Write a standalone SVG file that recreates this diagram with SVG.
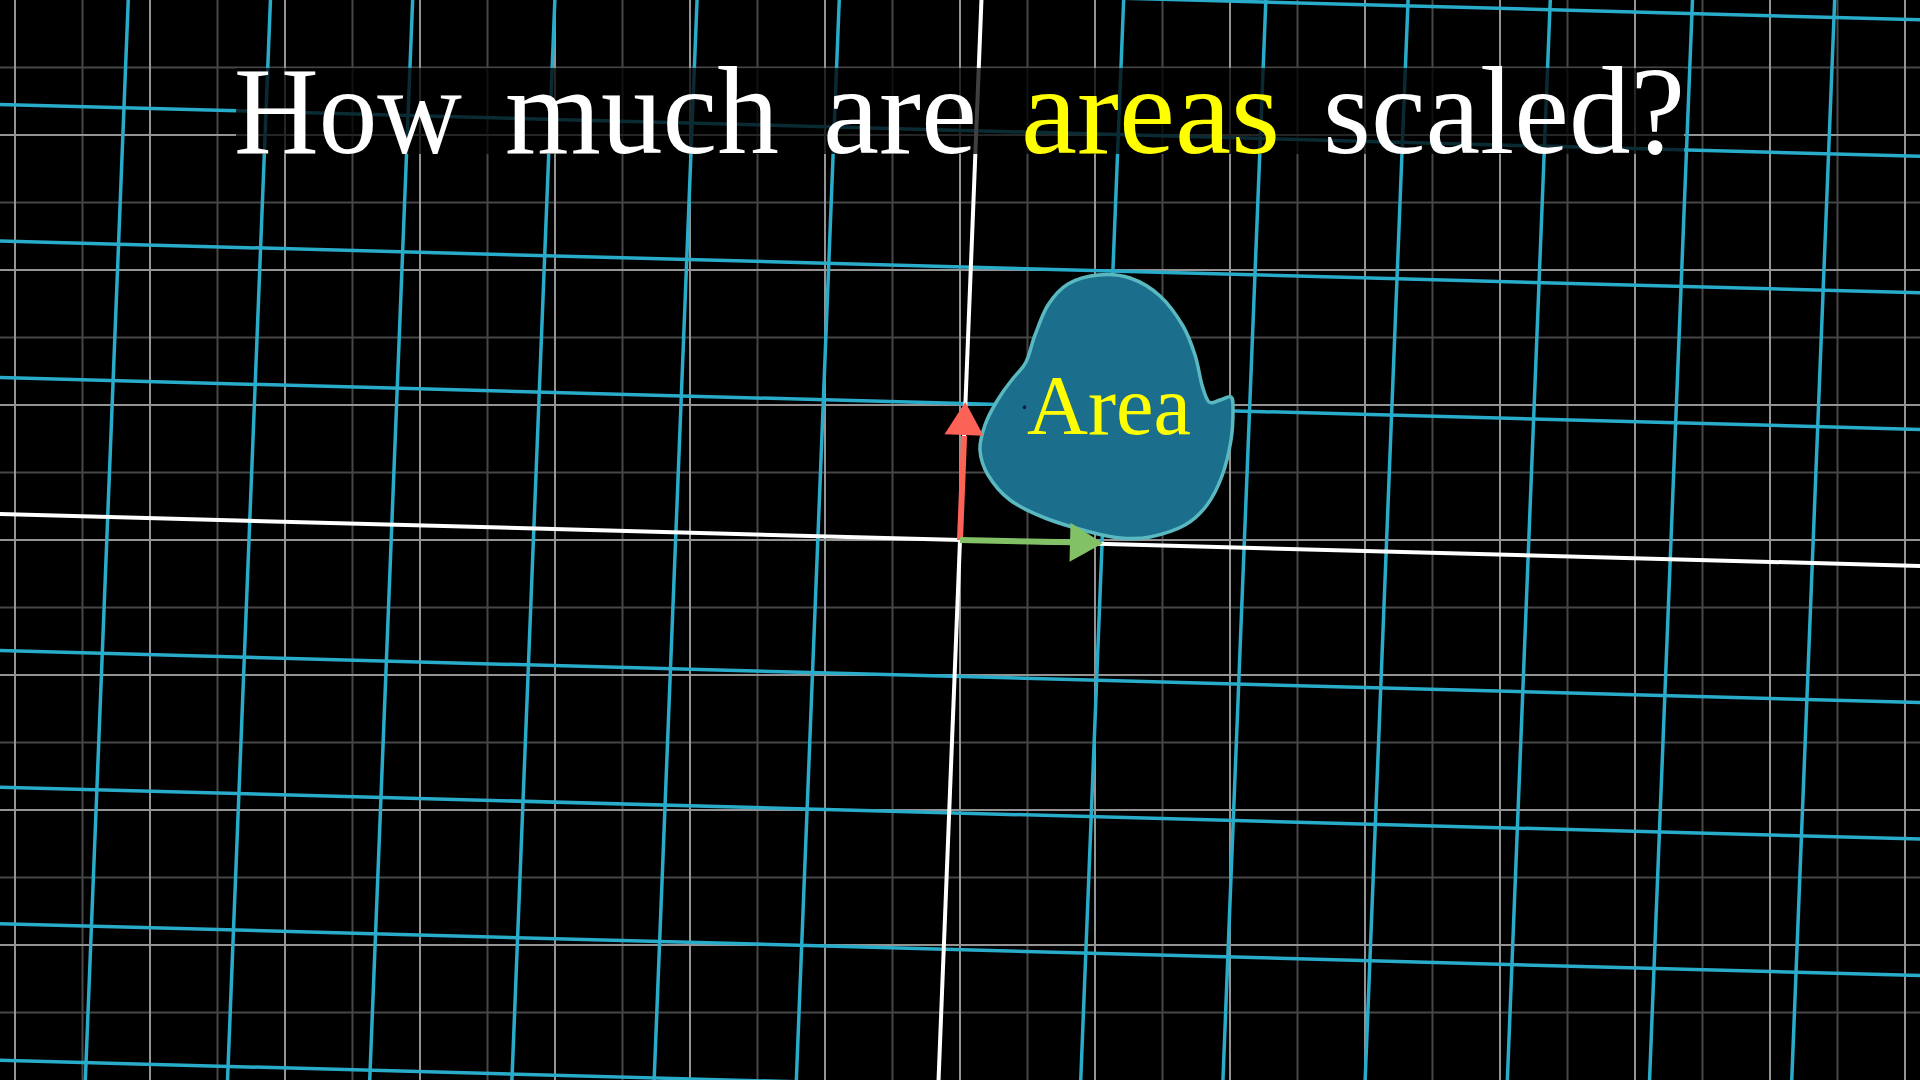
<svg xmlns="http://www.w3.org/2000/svg" width="1920" height="1080" viewBox="0 0 1920 1080">
<style>
.bg{fill:#000}
.gmaj{stroke:#949494;stroke-width:2;fill:none}
.gmin{stroke:#464646;stroke-width:2;fill:none}
.blue{stroke:#29ABCA;stroke-width:3.5;fill:none}
.axis{stroke:#ffffff;stroke-width:4;fill:none}
.title{font-family:"Liberation Serif","Times New Roman",serif;font-size:124px;fill:#ffffff}
.yel{fill:#FFFF00}
.blob{fill:#1b6e8c;stroke:#5ab9c0;stroke-width:3.5}
.label{font-family:"Liberation Serif","Times New Roman",serif;font-size:84px;fill:#FFFF00}
</style>
<rect class="bg" x="0" y="0" width="1920" height="1080"/>
<g id="background-grid">
<path class="gmin" d="M82.5 0V1080M217.5 0V1080M352.5 0V1080M487.5 0V1080M622.5 0V1080M757.5 0V1080M892.5 0V1080M1027.5 0V1080M1162.5 0V1080M1297.5 0V1080M1432.5 0V1080M1567.5 0V1080M1702.5 0V1080M1837.5 0V1080M0 67.5H1920M0 202.5H1920M0 337.5H1920M0 472.5H1920M0 607.5H1920M0 742.5H1920M0 877.5H1920M0 1012.5H1920"/>
<path class="gmaj" d="M15 0V1080M150 0V1080M285 0V1080M420 0V1080M555 0V1080M690 0V1080M825 0V1080M960 0V1080M1095 0V1080M1230 0V1080M1365 0V1080M1500 0V1080M1635 0V1080M1770 0V1080M1905 0V1080M0 135H1920M0 270H1920M0 405H1920M0 540H1920M0 675H1920M0 810H1920M0 945H1920"/>
</g>
<g id="transformed-grid">
<path class="blue" d="M-9.96 -100.68L-58.74 1126.92M132.09 -96.84L83.31 1130.76M274.14 -93L225.36 1134.6M416.19 -89.16L367.41 1138.44M558.24 -85.32L509.46 1142.28M700.29 -81.48L651.51 1146.12M842.34 -77.64L793.56 1149.96M1126.44 -69.96L1077.66 1157.64M1268.49 -66.12L1219.71 1161.48M1410.54 -62.28L1361.76 1165.32M1552.59 -58.44L1503.81 1169.16M1694.64 -54.6L1645.86 1173M1836.69 -50.76L1787.91 1176.84M1978.74 -46.92L1929.96 1180.68"/>
<path class="blue" d="M-127.08 1056.8L2003.72 1114.4M-121.66 920.4L2009.14 978M-116.24 784L2014.56 841.6M-110.82 647.6L2019.98 705.2M-99.98 374.8L2030.82 432.4M-94.56 238.4L2036.24 296M-89.14 102L2041.66 159.6M-83.72 -34.4L2047.08 23.2"/>
</g>
<g id="axes">
<path class="axis" d="M984.39 -73.8L935.61 1153.8"/>
<path class="axis" d="M-105.4 511.2L2025.4 568.8"/>
</g>
<g id="title">
<rect x="236" y="68" width="1448" height="86" fill="#000" fill-opacity="0.75"/>
<text class="title" x="234" y="153" textLength="228" lengthAdjust="spacingAndGlyphs">How</text>
<text class="title" x="505" y="153" textLength="274" lengthAdjust="spacingAndGlyphs">much</text>
<text class="title" x="823" y="153" textLength="154" lengthAdjust="spacingAndGlyphs">are</text>
<text class="title yel" x="1021" y="153" textLength="259" lengthAdjust="spacingAndGlyphs">areas</text>
<text class="title" x="1323" y="153" textLength="362" lengthAdjust="spacingAndGlyphs">scaled?</text>
</g>
<g id="area-blob">
<path class="blob" d="M1098 275C1108.3 274 1119.7 274.5 1130 278C1140.3 281.5 1151.2 288 1160 296C1168.8 304 1177.2 316.2 1183 326C1188.8 335.8 1191.8 345.2 1195 355C1198.2 364.8 1199.7 377.2 1202 385C1204.3 392.8 1206 399.5 1209 402C1212 404.5 1216.3 400.8 1220 400C1223.7 399.2 1228.8 395.3 1231 397C1233.2 398.7 1233 402.8 1233 410C1233 417.2 1232.8 429 1231 440C1229.2 451 1226 465.2 1222 476C1218 486.8 1213.2 496.8 1207 505C1200.8 513.2 1194.5 519.7 1185 525C1175.5 530.3 1160.8 534.8 1150 537C1139.2 539.2 1130 538.8 1120 538C1110 537.2 1102.5 535.3 1090 532C1077.5 528.7 1058.3 523.3 1045 518C1031.7 512.7 1019.5 507.2 1010 500C1000.5 492.8 993 483.3 988 475C983 466.7 980.5 458.3 980 450C979.5 441.7 982.2 433.2 985 425C987.8 416.8 992.5 408.5 997 401C1001.5 393.5 1006.5 386.5 1011 381C1016 374 1022.2 369.5 1026 362C1029.8 354.5 1031.3 344.5 1035 335C1038.7 325.5 1042.5 313.5 1048 305C1053.5 296.5 1059.7 289 1068 284C1076.3 279 1087.7 276 1098 275Z"/>
<ellipse cx="1024.5" cy="407.3" rx="1.6" ry="2" fill="#0b1a3c"/>
<text class="label" x="1027" y="434" textLength="164" lengthAdjust="spacingAndGlyphs">Area</text>
</g>
<g id="connectors">
<g id="j-hat">
<path d="M960 540L964.1 436" stroke="#FC6255" stroke-width="6" fill="none"/>
<polygon points="965.3,402 944.5,434.2 983.5,435.8" fill="#FC6255"/>
</g>
<g id="i-hat">
<path d="M960 540L1071 542.3" stroke="#83C167" stroke-width="6" fill="none"/>
<polygon points="1103,543.2 1070.5,522.8 1069.5,561.8" fill="#83C167"/>
</g>
</g>
</svg>
